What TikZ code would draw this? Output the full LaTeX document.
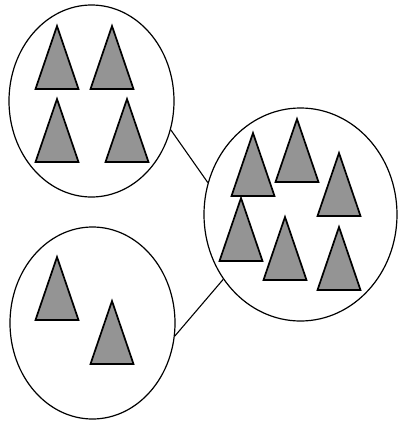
\documentclass[tikz,border=0pt]{standalone}
\usetikzlibrary{shapes.geometric}
\begin{document}
\begin{tikzpicture}[x=1pt,y=-1pt,
  group/.style={ellipse,draw=black,line width=1.2pt,inner sep=0pt},
  link/.style={draw=black,line width=1.1pt},
  cone/.pic={\filldraw[fill=black!42,draw=black,line width=1.7pt,line join=miter]
     (0,0) -- (-21.5,63) -- (21.5,63) -- cycle;}]
\useasboundingbox (0,0) rectangle (399,421);
\node[group,minimum width=165,minimum height=192] (A) at (91.5,101) {};
\node[group,minimum width=165,minimum height=192] (B) at (92.5,323) {};
\node[group,minimum width=193,minimum height=213] (C) at (300.5,214.5) {};
% top-left group
\pic at (57,26) {cone};
\pic at (112,26) {cone};
\pic at (57,99) {cone};
\pic at (127,99) {cone};
% bottom-left group
\pic at (57,257) {cone};
\pic at (112,301) {cone};
% right group
\pic at (253,133) {cone};
\pic at (297,119) {cone};
\pic at (339,153) {cone};
\pic at (241,198) {cone};
\pic at (285,217) {cone};
\pic at (339,227) {cone};
% connectors
\draw[link] (A.-20) -- (C.161);
\draw[link] (B.-9) -- (C.220);
\end{tikzpicture}
\end{document}
